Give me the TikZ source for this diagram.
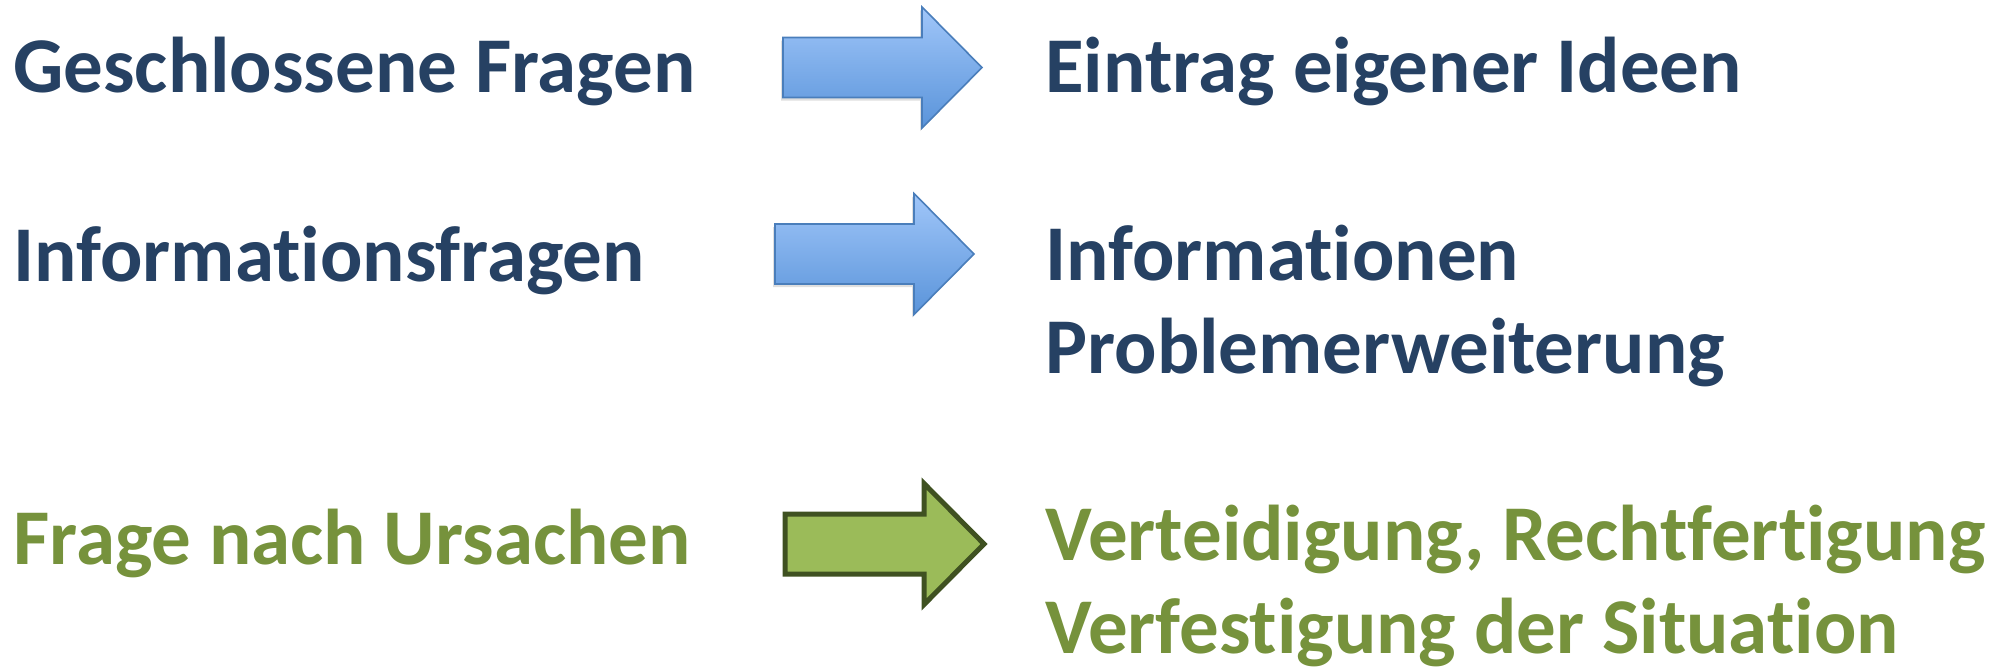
\documentclass[tikz,border=0pt]{standalone}
\usepackage{fontspec}
\setmainfont{Carlito}[Ligatures=NoCommon]
\usetikzlibrary{shadows}

\definecolor{frageblau}{HTML}{264163}
\definecolor{fragegruen}{HTML}{76923C}
\definecolor{pfeilrand}{HTML}{4A7EBB}
\definecolor{pfeiloben}{HTML}{A0C6F9}
\definecolor{pfeilunten}{HTML}{5A94DA}
\definecolor{gruenfill}{HTML}{9BBB59}
\definecolor{gruenrand}{HTML}{3F5121}

\tikzset{
  zeile/.style={inner sep=0pt, anchor=base west, align=left,
    font=\fontsize{39.5}{46.5}\selectfont\bfseries},
  blaupfeil/.style={draw=pfeilrand, line width=0.8pt,
    top color=pfeiloben, bottom color=pfeilunten,
    drop shadow={shadow xshift=-1pt, shadow yshift=-1.5pt, opacity=0.25}},
  gruenpfeil/.style={draw=gruenrand, line width=2.5pt, line join=miter, fill=gruenfill},
  % Blockpfeil, Ursprung = Mitte des Schaftendes
  pics/blockpfeil/.style={code={
    \path[#1] (0,-30) -- (139,-30) -- (139,-60.5) -- (199,0)
      -- (139,60.5) -- (139,30) -- (0,30) -- cycle;
  }}
}

\begin{document}
\begin{tikzpicture}[x=0.5pt,y=-0.5pt]
  \useasboundingbox (0,0) rectangle (2004,670);

  % linke Spalte: Fragearten
  \node[zeile, text=frageblau] (geschl) at (13,92) {Geschlossene Fragen};
  \node[zeile, text=frageblau] (infofr) at (13,281) {Informationsfragen};
  \node[zeile, text=fragegruen] (ursfr) at (13,564) {Frage nach Ursachen};

  % Pfeile
  \pic (p1) at (783,67.5) {blockpfeil=blaupfeil};
  \pic (p2) at (775,254) {blockpfeil=blaupfeil};
  \pic (p3) at (785,544) {blockpfeil=gruenpfeil};

  % rechte Spalte: Wirkung (Grundlinie der letzten Zeile)
  \node[zeile, text=frageblau] (eintrag) at (1045,92) {Eintrag eigener Ideen};
  \node[zeile, text=frageblau] (infos) at (1045,373) {Informationen\\Problemerweiterung};
  \node[zeile, text=fragegruen] (vert) at (1045,653) {Verteidigung, Rechtfertigung\\Verfestigung der Situation};
\end{tikzpicture}
\end{document}
